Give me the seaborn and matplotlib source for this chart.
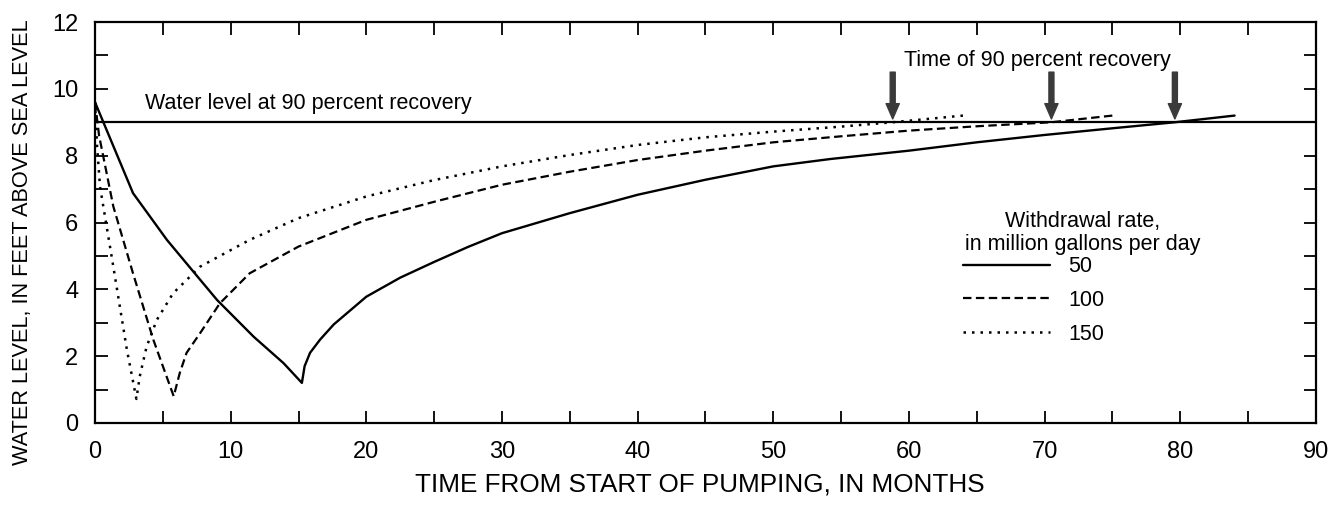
import numpy as np
import pandas as pd
import matplotlib
matplotlib.use("Agg")
import matplotlib.pyplot as plt
import seaborn as sns

# Water-level curves for three withdrawal rates (months since pumping began, feet above sea level)
months_50 = [0, 2.8, 5.3, 7.25, 9.0, 11.7, 13.9, 15.25, 15.45, 15.85, 16.6, 17.6, 20.0,
             22.5, 25.0, 27.5, 30.0, 35.0, 40.0, 45.0, 50.0, 54.2, 60.0, 65.0, 70.0, 75.0,
             79.6, 84.0]
level_50 = [9.6, 6.88, 5.48, 4.53, 3.68, 2.58, 1.79, 1.2, 1.7, 2.1, 2.5, 2.95, 3.78,
            4.35, 4.82, 5.27, 5.68, 6.28, 6.83, 7.28, 7.68, 7.9, 8.15, 8.4, 8.62, 8.82,
            9.0, 9.2]

months_100 = [0, 0.3, 1.35, 2.8, 4.3, 5.8, 6.25, 6.75, 7.75, 9.2, 11.4, 15.0, 20.0, 25.0,
              30.0, 35.0, 40.0, 45.0, 50.0, 55.0, 60.0, 65.0, 70.5, 75.0]
level_100 = [9.6, 8.6, 6.48, 4.48, 2.49, 0.8, 1.5, 2.1, 2.69, 3.58, 4.48, 5.28, 6.08, 6.62,
             7.13, 7.52, 7.87, 8.15, 8.4, 8.58, 8.75, 8.88, 9.0, 9.2]

months_150 = [0, 0.15, 0.37, 1.35, 2.35, 3.05, 3.3, 3.8, 4.55, 5.75, 7.75, 11.4, 15.0, 20.0,
              25.0, 30.0, 35.0, 40.0, 45.0, 50.0, 55.0, 58.8, 64.0]
level_150 = [9.6, 8.3, 7.07, 4.68, 2.19, 0.72, 1.4, 2.28, 3.08, 3.88, 4.68, 5.48, 6.13, 6.78,
             7.27, 7.68, 8.02, 8.32, 8.55, 8.72, 8.87, 9.0, 9.2]

rates = ["50", "100", "150"]
recovery_level = 9.0
recovery_months = [58.8, 70.5, 79.6]

x_ticks = list(range(0, 91, 10))
y_ticks = list(range(0, 13, 2))

sns.set_theme(style="ticks")
plt.rcParams["font.family"] = ["Liberation Sans", "DejaVu Sans"]
plt.rcParams["text.color"] = "black"
plt.rcParams["axes.labelcolor"] = "black"

fig = plt.figure(figsize=(13.42, 5.05), dpi=100)
ax = fig.add_axes([0.0708, 0.1624, 0.9098, 0.794])

styles = {
    "50": dict(linestyle="-", linewidth=1.7),
    "100": dict(linestyle=(0, (3.8, 2.0)), linewidth=1.6),
    "150": dict(linestyle=(0, (1.0, 2.4)), linewidth=1.8),
}

ax.axhline(recovery_level, color="black", linewidth=1.6, zorder=2)

handles = []
for rate, xs, ys in zip(rates, [months_50, months_100, months_150],
                        [level_50, level_100, level_150]):
    df = pd.DataFrame({"month": xs, "level": ys})
    sns.lineplot(data=df, x="month", y="level", ax=ax, color="black",
                 estimator=None, sort=False, label=rate, **styles[rate])
    handles.append(ax.get_lines()[-1])

# Arrows marking when each curve regains the 90-percent level
for m in recovery_months:
    ax.annotate("", xy=(m, recovery_level + 0.1), xytext=(m, 10.5),
                arrowprops=dict(width=3.6, headwidth=9.5, headlength=11,
                                facecolor="#3a3a3a", edgecolor="#3a3a3a",
                                shrink=0.0))

text_size = 15.5
ax.text(3.7, 9.55, "Water level at 90 percent recovery", fontsize=text_size,
        ha="left", va="center")
ax.text(69.5, 10.84, "Time of 90 percent recovery", fontsize=text_size,
        ha="center", va="center")
ax.text(72.8, 5.68, "Withdrawal rate,\nin million gallons per day", fontsize=text_size,
        ha="center", va="center", linespacing=1.15)

leg = ax.legend(handles=handles, labels=rates,
                loc="center left", bbox_to_anchor=(0.711, 0.3056),
                frameon=False, fontsize=text_size,
                handlelength=4.05, handletextpad=0.85, labelspacing=0.6,
                borderaxespad=0.0, borderpad=0.0)

ax.set_xlim(0, 90)
ax.set_ylim(0, 12)
ax.set_xticks(x_ticks)
ax.set_yticks(y_ticks)
ax.set_xticks(np.arange(0, 91, 5), minor=True)
ax.set_yticks(np.arange(0, 13, 1), minor=True)
ax.tick_params(which="both", direction="in", length=9, width=1.3,
               top=True, right=True, colors="black", labelsize=17, pad=12)
ax.tick_params(axis="x", pad=13)

for side in ax.spines.values():
    side.set_linewidth(1.6)
    side.set_color("black")

ax.set_xlabel("TIME FROM START OF PUMPING, IN MONTHS", fontsize=18.8)
ax.set_ylabel("WATER LEVEL, IN FEET ABOVE SEA LEVEL", fontsize=15.7)
ax.xaxis.label.set_va("center")
ax.yaxis.label.set_va("center")
ax.xaxis.set_label_coords(0.4955, -0.1546)
ax.yaxis.set_label_coords(-0.0598, 0.451)

fig.savefig("out.png", dpi=100, facecolor="white")
